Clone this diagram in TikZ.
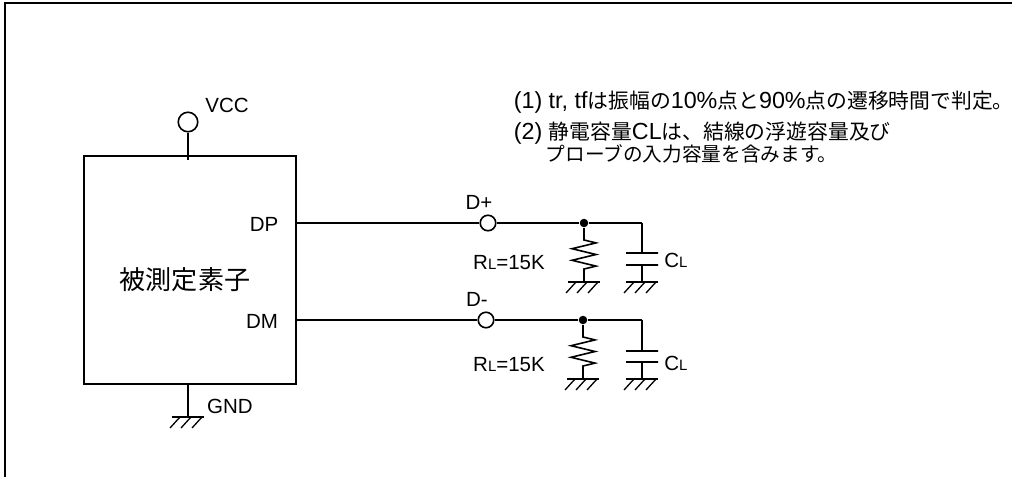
\documentclass[tikz,border=0pt]{standalone}
\usepackage{fontspec}
\setmainfont{Liberation Sans}
\newfontfamily\cjk[Scale=0.893]{Noto Sans CJK JP}
\usetikzlibrary{calc}
\usetikzlibrary{positioning}
\tikzset{every picture/.style={line width=1.6pt,x=1pt,y=-1pt}}
\tikzset{terminal/.style={circle,draw,fill=white,inner sep=0pt,minimum size=15.5pt}}
\tikzset{label/.style={inner sep=0pt,font=\fontsize{20.5}{20.5}\selectfont}}
\tikzset{note/.style={inner sep=0pt,anchor=base west,font=\fontsize{23.3}{23.3}\selectfont}}
\tikzset{plate/.style={inner sep=0pt,minimum width=32pt,minimum height=0pt}}
\newcommand{\sml}{\fontsize{15}{15}\selectfont L}
% ground symbol: bar with three slanted strokes
\newcommand{\gnd}[1]{
\draw ($(#1)+(-16,0)$) -- ($(#1)+(16,0)$);
\foreach \h in {-18,-7,4} {
\draw[line width=1.3pt] ($(#1)+(\h+10,0)$) -- ($(#1)+(\h,11)$);
}
}
\begin{document}
\begin{tikzpicture}
\useasboundingbox (0,0) rectangle (1012,477);
\draw[line width=2pt] (5,477) -- (5,2.7) -- (1012,2.7);
\node (dut) at (190,270) [draw,minimum width=212pt,minimum height=228pt,inner sep=0pt] {};
\node (dutname) at (185,280) [inner sep=0pt,font=\fontsize{29.2}{29.2}\selectfont\cjk] {被測定素子};
% power and ground
\node (vcc) at (188,122) [terminal,minimum size=19.5pt] {};
\coordinate (vccin) at (188,160);
\draw (vcc) -- (vccin);
\node (vcclabel) at (227,105) [label] {VCC};
\coordinate (gndpin) at (188,384);
\coordinate (gndbar) at (188,417);
\draw (gndpin) -- (gndbar);
\gnd{gndbar}
\node (gndlabel) at (230,406) [label] {GND};
% the two outputs
\foreach \i/\y/\tx/\jx/\sx/\pin/\sig/\ry/\cy/\pa in {1/223/488/584/479/DP/D+/40/37/30, 2/320/486/583/477/DM/D-/45/43/31} {
\coordinate (pin\i) at (296,\y);
\node (t\i) at (\tx,\y) [terminal] {};
\node (j\i) at (\jx,\y) [circle,fill,inner sep=0pt,minimum size=8.5pt] {};
\coordinate (top\i) at (642,\y);
\draw (pin\i) -- (t\i);
\draw (t\i) -- (j\i);
\draw (j\i) -- (top\i);
\node (pinlabel\i) at (\ifnum\i=1 264\else 262\fi,\y+1) [label] {\pin};
\node (sig\i) at (\sx,\y-21) [label] {\sig};
% resistor
\coordinate (ra\i) at (\jx,\y+17);
\coordinate (rg\i) at (\jx,\y+59);
\draw (j\i) -- (ra\i) -- ++(12,2.9) -- ++(-24,5.8) -- ++(24,5.8) -- ++(-24,5.8) -- ++(24,5.8) -- ++(-12,2.9) -- (rg\i);
\gnd{rg\i}
\node (rlabel\i) at (509,\y+\ry) [label] {R{\sml}=15K};
% capacitor
\node (pa\i) at (642,\y+\pa) [plate,draw] {};
\node (pb\i) at (642,\y+42) [plate,draw] {};
\coordinate (cg\i) at (642,\y+59);
\draw (top\i) -- (pa\i);
\draw (pb\i) -- (cg\i);
\gnd{cg\i}
\node (clabel\i) at (676,\y+\cy) [label] {C{\sml}};
}
% notes
\node (note1) at (513,108) [note] {(1) tr, tf{\cjk は振幅の}10\%{\cjk 点と}90\%{\cjk 点の遷移時間で判定。}};
\node (note2) at (513,139) [note] {(2) {\cjk 静電容量}CL{\cjk は、結線の浮遊容量及び}};
\node (note3) at (545,161) [note,font=\fontsize{22}{22}\selectfont] {\cjk プローブの入力容量を含みます。};
\end{tikzpicture}
\end{document}
